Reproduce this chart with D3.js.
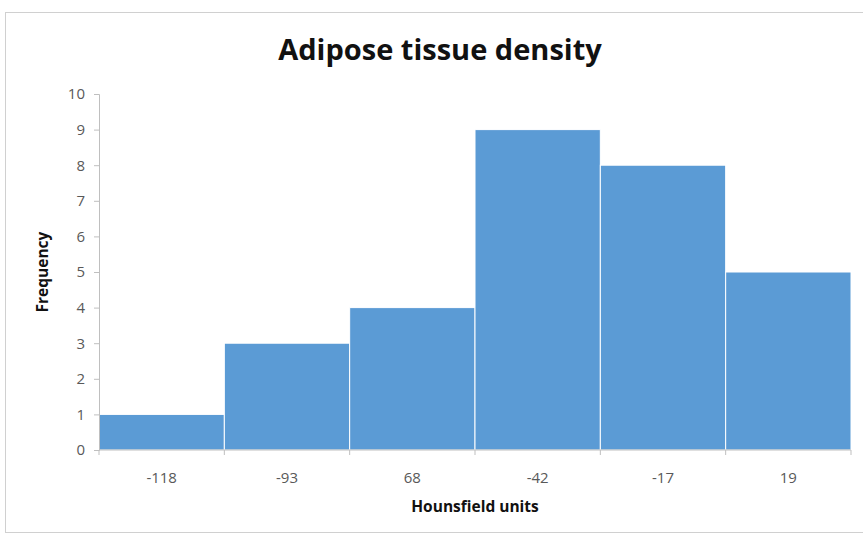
<!DOCTYPE html>
<html>
<head>
<meta charset="utf-8">
<script src="https://cdn.jsdelivr.net/npm/d3@7"></script>
<style>
  html, body { margin: 0; padding: 0; background: #fff; }
  svg { display: block; }
</style>
</head>
<body>
<svg id="chart" width="863" height="536"></svg>
<script>
// Histogram bins (Hounsfield units) and their frequencies
const binLabels = ["-118", "-93", "68", "-42", "-17", "19"];
const frequencies = [1, 3, 4, 9, 8, 5];
const yTicks = [0, 1, 2, 3, 4, 5, 6, 7, 8, 9, 10];

const W = 863, H = 536;
const margin = { left: 99, right: 12, top: 94, bottom: 86 };
const svg = d3.select("#chart");
const font = "'Open Sans', 'Liberation Sans', sans-serif";

// chart frame
svg.append("rect")
  .attr("x", 5.5).attr("y", 12.5)
  .attr("width", W - 4).attr("height", H - 16)
  .attr("fill", "#fff").attr("stroke", "#d0d0d0");

const x = d3.scaleBand()
  .domain(binLabels)
  .range([margin.left, W - margin.right])
  .padding(0);

const y = d3.scaleLinear()
  .domain([0, 10])
  .range([H - margin.bottom, margin.top]);

// bars
svg.append("g").selectAll("rect")
  .data(frequencies)
  .join("rect")
  .attr("x", (d, i) => x(binLabels[i]))
  .attr("y", d => y(d))
  .attr("width", x.bandwidth())
  .attr("height", d => y(0) - y(d))
  .attr("fill", "#5B9BD5")
  .attr("stroke", "#fff")
  .attr("stroke-width", 1);

// y axis
const yAxis = svg.append("g")
  .attr("transform", `translate(${margin.left},0)`)
  .call(d3.axisLeft(y).tickValues(yTicks).tickSize(5).tickPadding(9));
yAxis.select(".domain").attr("stroke", "#bfbfbf");
yAxis.selectAll(".tick line").attr("stroke", "#bfbfbf");
yAxis.selectAll(".tick text")
  .attr("fill", "#595959").style("font-family", font).style("font-size", "15px");

// x axis: ticks at bin boundaries, labels centred in each bin
const xAxisG = svg.append("g")
  .attr("transform", `translate(0,${y(0)})`);
xAxisG.append("line")
  .attr("x1", margin.left).attr("x2", W - margin.right)
  .attr("stroke", "#bfbfbf");
const edges = binLabels.map(b => x(b)).concat([x(binLabels[binLabels.length - 1]) + x.bandwidth()]);
xAxisG.selectAll(".edge")
  .data(edges)
  .join("line")
  .attr("x1", d => d).attr("x2", d => d)
  .attr("y1", 0).attr("y2", 5)
  .attr("stroke", "#bfbfbf");
xAxisG.selectAll(".lbl")
  .data(binLabels)
  .join("text")
  .attr("x", d => x(d) + x.bandwidth() / 2)
  .attr("y", 33)
  .attr("text-anchor", "middle")
  .attr("fill", "#595959")
  .style("font-family", font).style("font-size", "15px")
  .text(d => d);

// title
svg.append("text")
  .attr("x", 440).attr("y", 60)
  .attr("text-anchor", "middle")
  .attr("fill", "#111")
  .style("font-family", font).style("font-size", "29px").style("font-weight", "bold")
  .text("Adipose tissue density");

// axis titles
svg.append("text")
  .attr("x", 475).attr("y", 512)
  .attr("text-anchor", "middle")
  .attr("fill", "#111")
  .style("font-family", font).style("font-size", "15.5px").style("font-weight", "bold")
  .text("Hounsfield units");

svg.append("text")
  .attr("transform", "translate(48,272) rotate(-90)")
  .attr("text-anchor", "middle")
  .attr("fill", "#111")
  .style("font-family", font).style("font-size", "15.5px").style("font-weight", "bold")
  .text("Frequency");
</script>
</body>
</html>
